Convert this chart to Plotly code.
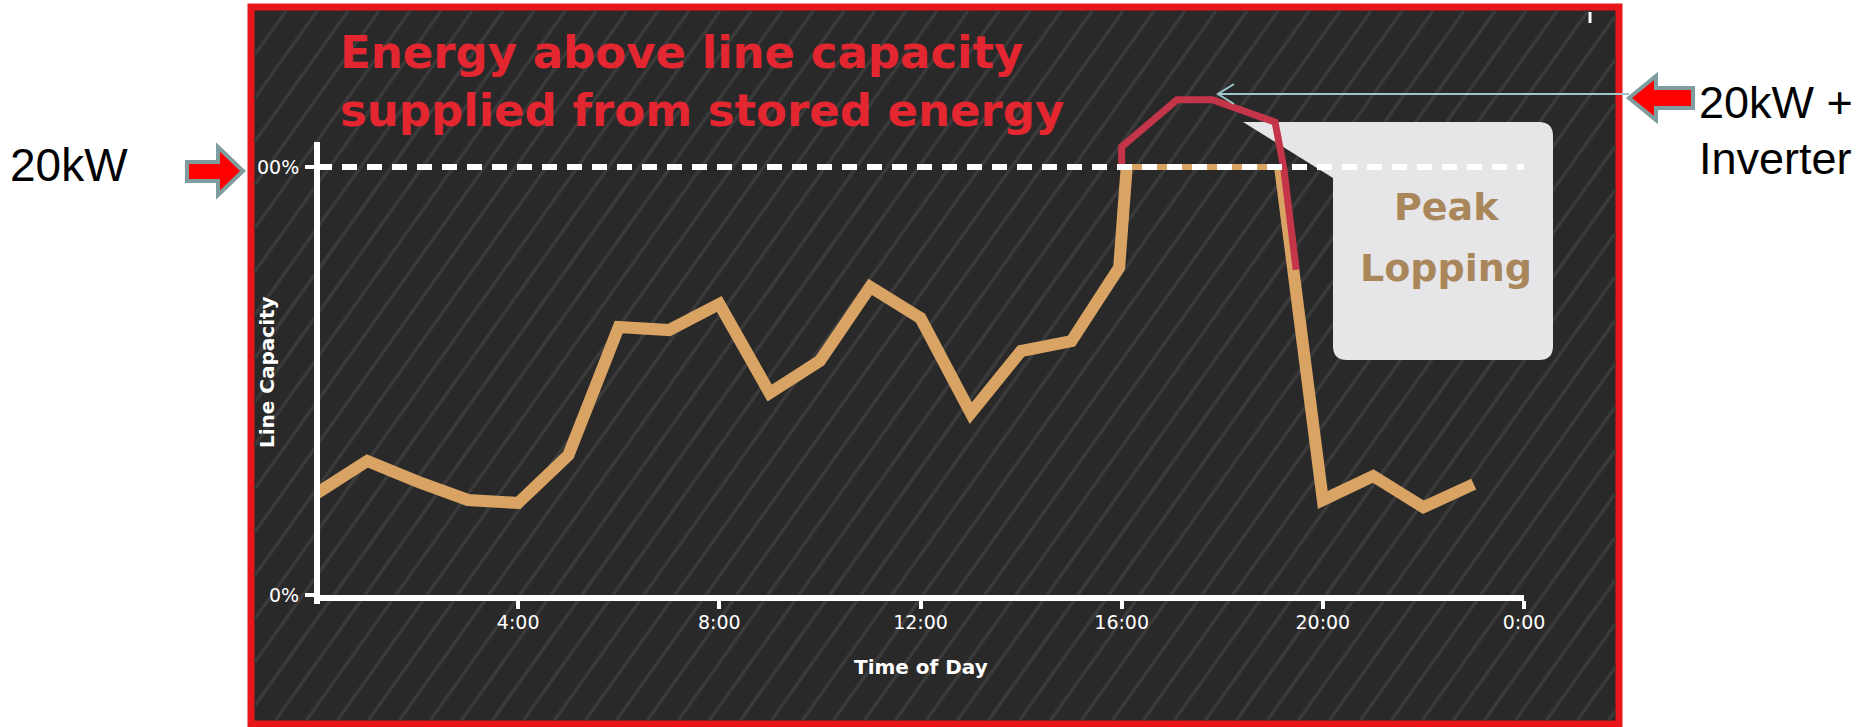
import plotly.graph_objects as go

W, H = 1868, 727

# ---------------- data ----------------
hours = [0, 1, 2, 3, 4, 5, 6, 7, 8, 9, 10, 11, 12, 13, 14, 15, 15.95, 16.1, 19.15, 20, 21, 22, 23]
load_pct = [23.8, 31.3, 26.5, 22.2, 21.5, 32.7, 62.6, 61.9, 68.0, 47.2, 54.7, 72.0, 64.7,
            42.5, 57.0, 59.3, 76.5, 100, 100, 22.2, 27.8, 20.5, 25.9]

demand_hours = [16.0, 16.0, 17.1, 17.8, 19.05, 19.22, 19.47]
demand_pct = [100, 104.7, 115.7, 115.7, 110.5, 100, 76]

capacity_pct = 100
tick_hours = [4, 8, 12, 16, 20, 24]
tick_labels = ["4:00", "8:00", "12:00", "16:00", "20:00", "0:00"]
y_tick_vals = [0, 100]
y_tick_labels = ["0%", "00%"]

title_lines = ["Energy above line capacity", "supplied from stored energy"]

# ---------------- helpers ----------------
def px(x):
    return x / W

def py(y):
    return 1 - y / H

def P(x, y):
    return f"{px(x):.5f},{py(y):.5f}"

ORANGE = "#D9A463"
RED_LINE = "#C43549"
TEAL = "#9CC8CC"

fig = go.Figure()

# main load line (flat capped segments drawn thin separately)
ox, oy = [], []
flat = []
for i, (h, v) in enumerate(zip(hours, load_pct)):
    if i > 0 and v >= capacity_pct and load_pct[i - 1] >= capacity_pct:
        ox.append(None)
        oy.append(None)
        flat.append((hours[i - 1], h))
    ox.append(h)
    oy.append(v)

for a, b in flat:
    fig.add_trace(go.Scatter(x=[a, b], y=[capacity_pct, capacity_pct], mode="lines",
                             line=dict(color=ORANGE, width=6), hoverinfo="skip", showlegend=False))

fig.add_trace(go.Scatter(x=ox, y=oy, mode="lines", connectgaps=False,
                         line=dict(color=ORANGE, width=12, shape="linear"),
                         hoverinfo="skip", showlegend=False))

fig.add_trace(go.Scatter(x=demand_hours, y=demand_pct, mode="lines",
                         line=dict(color=RED_LINE, width=7),
                         hoverinfo="skip", showlegend=False))

shapes = []
# panel
shapes.append(dict(type="rect", xref="paper", yref="paper",
                   x0=px(251), x1=px(1619), y0=py(724), y1=py(7),
                   fillcolor="#2A292A", line=dict(color="#E8161B", width=7), layer="below"))

# diagonal stripes inside panel
xa, xb, ya, yb = 255, 1615, 11, 720
slope = 1.4
spacing = 31
c = xa + ya / slope
cmax = xb + yb / slope
while c < cmax:
    x0, y0 = c - yb / slope, yb
    if x0 < xa:
        x0, y0 = xa, (c - xa) * slope
    x1, y1 = c - ya / slope, ya
    if x1 > xb:
        x1, y1 = xb, (c - xb) * slope
    if y0 > y1:
        shapes.append(dict(type="line", xref="paper", yref="paper",
                           x0=px(x0), y0=py(y0), x1=px(x1), y1=py(y1),
                           line=dict(color="#3B3A3B", width=3.5), layer="below"))
    c += spacing

# Peak lopping callout box
bx0, bx1, by0, by1, r = 1333, 1553, 122, 360, 14
box_path = (f"M {P(bx0 + r, by0)} L {P(bx1 - r, by0)} Q {P(bx1, by0)} {P(bx1, by0 + r)} "
            f"L {P(bx1, by1 - r)} Q {P(bx1, by1)} {P(bx1 - r, by1)} "
            f"L {P(bx0 + r, by1)} Q {P(bx0, by1)} {P(bx0, by1 - r)} "
            f"L {P(bx0, by0 + r)} Q {P(bx0, by0)} {P(bx0 + r, by0)} Z")
shapes.append(dict(type="path", xref="paper", yref="paper", path=box_path,
                   fillcolor="#E6E6E9", line=dict(width=0), layer="below"))
shapes.append(dict(type="path", xref="paper", yref="paper",
                   path=f"M {P(1243, 122)} L {P(1345, 122)} L {P(1345, 185)} L {P(1333, 178)} Z",
                   fillcolor="#E6E6E9", line=dict(width=0), layer="below"))

# capacity dashed line
shapes.append(dict(type="line", xref="x", yref="y", x0=0, x1=24, y0=capacity_pct, y1=capacity_pct,
                   line=dict(color="white", width=6, dash="15px,10px"), layer="above"))

# y axis line
shapes.append(dict(type="line", xref="paper", yref="paper", x0=px(317), x1=px(317),
                   y0=py(604), y1=py(142), line=dict(color="white", width=6), layer="above"))

# small white mark top-right
shapes.append(dict(type="line", xref="paper", yref="paper", x0=px(1590), x1=px(1590),
                   y0=py(23), y1=py(12), line=dict(color="white", width=3), layer="above"))

# right block arrow (pointing left)
ra = (f"M {P(1629, 98)} L {P(1656, 76)} L {P(1656, 88)} L {P(1693, 88)} L {P(1693, 108)} "
      f"L {P(1656, 108)} L {P(1656, 120)} Z")
shapes.append(dict(type="path", xref="paper", yref="paper", path=ra,
                   fillcolor="#FF0000", line=dict(color="#7F9C9E", width=4), layer="above"))
# left block arrow (pointing right)
la = (f"M {P(243, 171)} L {P(218, 147)} L {P(218, 162)} L {P(187, 162)} L {P(187, 181)} "
      f"L {P(218, 181)} L {P(218, 195)} Z")
shapes.append(dict(type="path", xref="paper", yref="paper", path=la,
                   fillcolor="#FF0000", line=dict(color="#7F9C9E", width=4), layer="above"))

# thin teal pointer line with open arrowhead
shapes.append(dict(type="line", xref="paper", yref="paper", x0=px(1629), x1=px(1218),
                   y0=py(94), y1=py(94), line=dict(color=TEAL, width=2), layer="above"))
shapes.append(dict(type="path", xref="paper", yref="paper",
                   path=f"M {P(1234, 84)} L {P(1218, 94)} L {P(1234, 104)}",
                   line=dict(color=TEAL, width=2), layer="above"))

annotations = []

def ann(text, x, y, size, color, family="DejaVu Sans", weight="normal", xanchor="left",
        yanchor="middle", angle=0):
    annotations.append(dict(text=text, x=px(x), y=py(y), xref="paper", yref="paper",
                            xanchor=xanchor, yanchor=yanchor, showarrow=False, textangle=angle,
                            font=dict(family=family, size=size, color=color, weight=weight)))

ann(title_lines[0], 338, 53, 45, "#E3262F", weight="bold")
ann(title_lines[1], 338, 110, 45, "#E3262F", weight="bold")
ann("Peak", 1446, 207, 38, "#AA875A", weight="bold", xanchor="center")
ann("Lopping", 1446, 268, 38, "#AA875A", weight="bold", xanchor="center")
ann("Line Capacity", 267, 372, 20, "white", weight="bold", xanchor="center", angle=-90)
ann("Time of Day", 921, 667, 20, "white", weight="bold", xanchor="center")
ann("20kW", 8, 165, 46, "black", family="Liberation Sans")
ann("20kW +", 1697, 102, 45, "black", family="Liberation Sans")
ann("Inverter", 1697, 158, 45, "black", family="Liberation Sans")

fig.update_layout(
    width=W, height=H, autosize=False,
    margin=dict(l=0, r=0, t=0, b=0),
    paper_bgcolor="white", plot_bgcolor="rgba(0,0,0,0)",
    template="none",
    showlegend=False,
    shapes=shapes,
    annotations=annotations,
    xaxis=dict(domain=[px(317), px(1524)], range=[0, 24], showgrid=False, zeroline=False,
               showline=True, linecolor="white", linewidth=6,
               tickmode="array", tickvals=tick_hours, ticktext=tick_labels,
               ticks="outside", ticklen=8, tickwidth=4, tickcolor="white",
               ticklabelstandoff=-3,
               tickfont=dict(family="DejaVu Sans", size=19, color="white"),
               automargin=False, fixedrange=True),
    yaxis=dict(domain=[py(595), py(60)], range=[0, 125], showgrid=False, zeroline=False,
               showline=False,
               tickmode="array", tickvals=y_tick_vals, ticktext=y_tick_labels,
               ticks="outside", ticklen=11, tickwidth=4, tickcolor="white",
               ticklabelstandoff=2,
               tickfont=dict(family="DejaVu Sans", size=19, color="white"),
               automargin=False, fixedrange=True),
)

fig.write_html("out.html")
